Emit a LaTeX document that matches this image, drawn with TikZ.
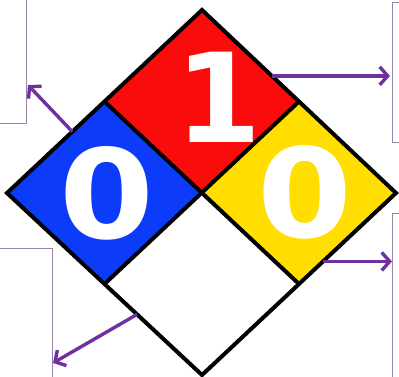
\documentclass[tikz,border=0pt]{standalone}
\usepackage{fontspec}
\setmainfont{DejaVu Sans}
\usetikzlibrary{calc,arrows.meta}
\definecolor{nfred}{RGB}{250,12,12}
\definecolor{nfblue}{RGB}{12,60,250}
\definecolor{nfyellow}{RGB}{255,222,0}
\definecolor{arrowpurple}{RGB}{112,48,160}
\definecolor{boxline}{RGB}{150,135,170}

\begin{document}
\begin{tikzpicture}[x=1pt,y=-1pt,
  infobox/.style={boxline,line width=0.9pt},
  pointer/.style={arrowpurple,line width=3.4pt,-{Straight Barb[length=8pt,width=18pt]}},
  num/.style={inner sep=0pt,text=white,font=\bfseries\fontsize{124}{124}\selectfont}]
\useasboundingbox (0,0) rectangle (399,377);
\clip (0,0) rectangle (399,377);
\coordinate (T) at (202,10); \coordinate (L) at (7,193); \coordinate (R) at (396,193); \coordinate (B) at (202,375);
\coordinate (C) at ($(L)!0.5!(R)$);
\coordinate (TL) at ($(T)!0.5!(L)$); \coordinate (TR) at ($(T)!0.5!(R)$);
\coordinate (BL) at ($(B)!0.5!(L)$); \coordinate (BR) at ($(B)!0.5!(R)$);
% the four fields
\fill[nfred] (T)--(TR)--(C)--(TL)--cycle;
\fill[nfblue] (L)--(TL)--(C)--(BL)--cycle;
\fill[nfyellow] (R)--(TR)--(C)--(BR)--cycle;
\fill[white] (B)--(BL)--(C)--(BR)--cycle;
\draw[line width=4pt] (T)--(R)--(B)--(L)--cycle;
\draw[line width=4pt] (TL)--(BR) (TR)--(BL);
% ratings
\node[num] (flam) at (219,97) {1};
\node[num,xscale=1.1] (health) at (107,193) {0};
\node[num,xscale=1.1] (react) at (305,192) {0};
% side boxes
\draw[infobox] (-10,-10) rectangle (26,123);
\draw[infobox] (392,2) rectangle (410,142);
\draw[infobox] (-10,248) rectangle (52,390);
\draw[infobox] (392,213) rectangle (410,390);
% pointers
\coordinate (p1) at ($(T)!0.665!(L)$); \coordinate (e1) at (28,85);
\coordinate (p2) at ($(T)!0.36!(R)$); \coordinate (e2) at (390,76);
\coordinate (p3) at ($(L)!0.667!(B)$); \coordinate (e3) at (53,363);
\coordinate (p4) at ($(R)!0.376!(B)$); \coordinate (e4) at (392,262);
\draw[pointer] (p1) -- (e1);
\draw[pointer] (p2) -- (p2 -| e2);
\draw[pointer] (p3) -- (e3);
\draw[pointer] (p4) -- (p4 -| e4);
\end{tikzpicture}
\end{document}
